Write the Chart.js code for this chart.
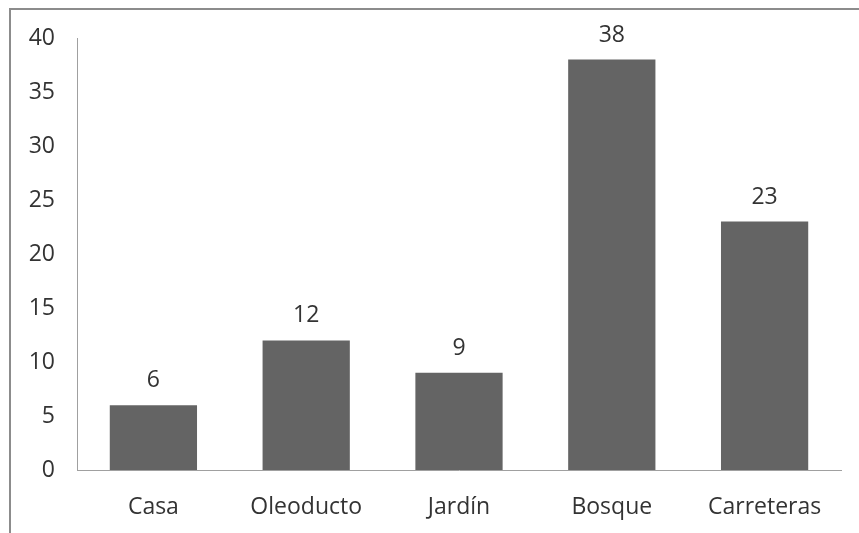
<!DOCTYPE html>
<html>
<head>
<meta charset="utf-8">
<script src="https://cdn.jsdelivr.net/npm/chart.js@4"></script>
<style>
html,body{margin:0;padding:0;background:#fff;}
#wrap{width:859px;height:533px;position:relative;}
</style>
</head>
<body>
<div id="wrap"><canvas id="c" width="859" height="533"></canvas></div>
<script>
const categories = ["Casa", "Oleoducto", "Jardín", "Bosque", "Carreteras"];
const values = [6, 12, 9, 38, 23];
const yTicks = [0, 5, 10, 15, 20, 25, 30, 35, 40];

const FONT = "'Open Sans'";
const TEXT = "#333333";

const framePlugin = {
  id: 'frame',
  beforeDraw(chart) {
    const ctx = chart.ctx;
    ctx.save();
    ctx.fillStyle = '#fff';
    ctx.fillRect(0, 0, chart.width, chart.height);
    ctx.fillStyle = '#8c8c8c';
    ctx.fillRect(9, 8, chart.width - 9, 2);
    ctx.fillRect(9, 8, 2, chart.height - 8);
    ctx.restore();
  }
};

const labelPlugin = {
  id: 'vlabels',
  afterDatasetsDraw(chart) {
    const ctx = chart.ctx;
    const meta = chart.getDatasetMeta(0);
    ctx.save();
    ctx.font = "23px " + FONT;
    ctx.fillStyle = TEXT;
    ctx.textAlign = 'center';
    ctx.textBaseline = 'alphabetic';
    meta.data.forEach((bar, i) => {
      ctx.fillText(String(chart.data.datasets[0].data[i]), bar.x, bar.y - 18);
    });
    ctx.restore();
  }
};

new Chart(document.getElementById('c'), {
  type: 'bar',
  data: {
    labels: categories,
    datasets: [{
      data: values,
      backgroundColor: '#646464',
      borderWidth: 0,
      categoryPercentage: 1,
      barPercentage: 0.571
    }]
  },
  options: {
    responsive: false,
    animation: false,
    layout: { padding: { top: 38, right: 18, left: 0, bottom: 0 } },
    plugins: { legend: { display: false }, tooltip: { enabled: false } },
    scales: {
      y: {
        min: 0, max: 40,
        afterBuildTicks(axis) { axis.ticks = yTicks.map(v => ({ value: v })); },
        afterFit(axis) { axis.width = 77; },
        grid: { display: false, drawTicks: false },
        border: { display: true, color: '#a0a0a0', width: 1 },
        ticks: { padding: 22, color: TEXT, font: { family: FONT, size: 23 } }
      },
      x: {
        afterFit(axis) { axis.height = 63; },
        grid: { display: false, drawTicks: false },
        border: { display: true, color: '#a0a0a0', width: 1 },
        ticks: { padding: 24, color: TEXT, font: { family: FONT, size: 23 }, maxRotation: 0, autoSkip: false }
      }
    }
  },
  plugins: [framePlugin, labelPlugin]
});
</script>
</body>
</html>
